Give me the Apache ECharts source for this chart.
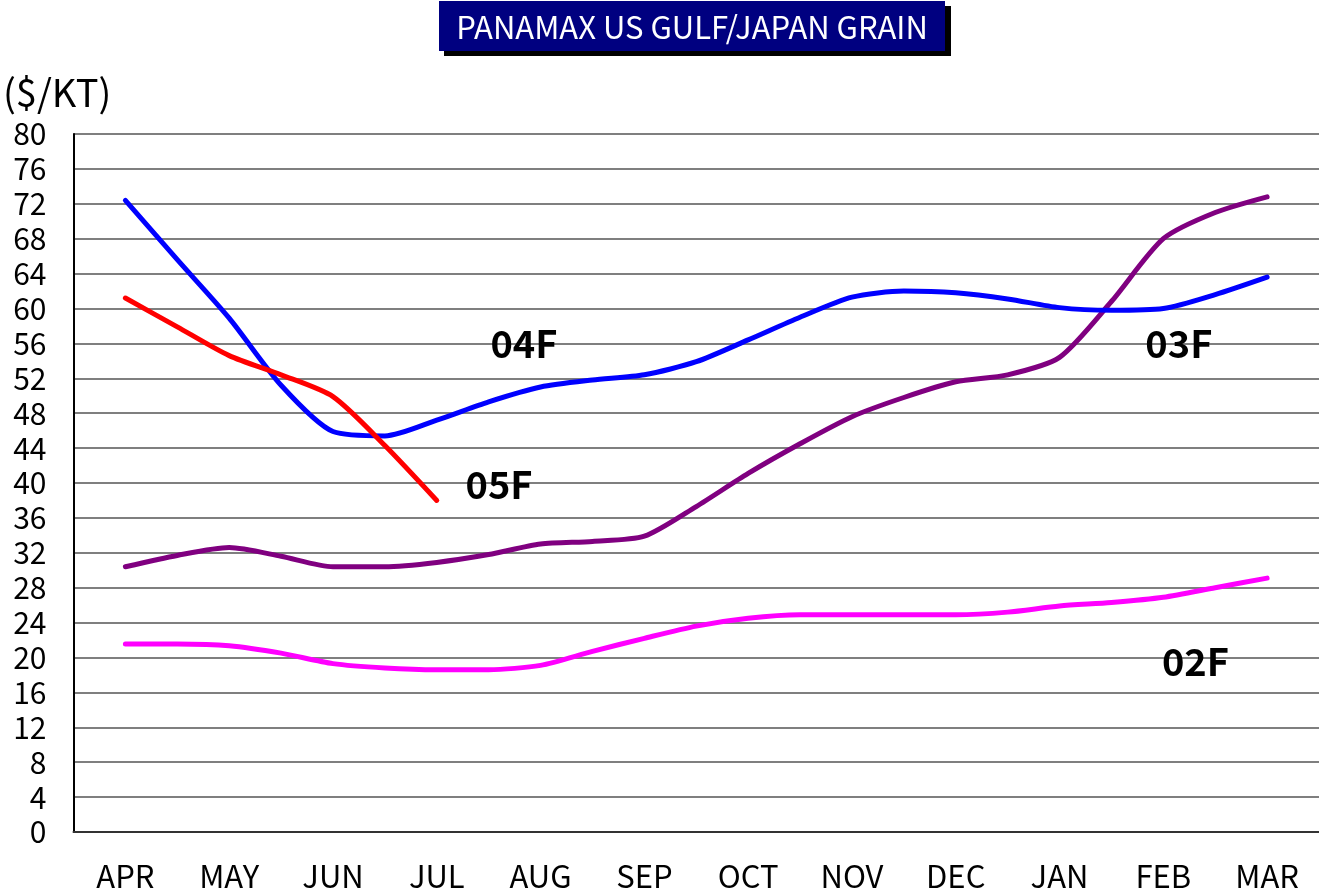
<!DOCTYPE html>
<html>
<head>
<meta charset="utf-8">
<title>PANAMAX US GULF/JAPAN GRAIN</title>
<script src="https://cdn.jsdelivr.net/npm/echarts@6/dist/echarts.min.js"></script>
<style>
  html, body { margin: 0; padding: 0; background: #fff; }
  #chart { width: 1319px; height: 892px; }
</style>
</head>
<body>
<div id="chart"></div>
<script>
// month names on the x axis
const months = ['APR', 'MAY', 'JUN', 'JUL', 'AUG', 'SEP', 'OCT', 'NOV', 'DEC', 'JAN', 'FEB', 'MAR']

// half-month steps, counted from the APR point
const steps = [0, 0.5, 1, 1.5, 2, 2.5, 3, 3.5, 4, 4.5, 5, 5.5, 6, 6.5, 7, 7.5, 8, 8.5, 9, 9.5, 10, 10.5, 11]

// freight rates ($/KT)
const f05 = [61.2, 57.9, 54.6, 52.4, 49.9, 44.3, 38.0]
const f04 = [72.4, 65.6, 58.9, 51.2, 45.9, 45.4, 47.2, 49.3, 51.0, 51.8, 52.4, 53.9,
  56.4, 59.0, 61.3, 62.0, 61.8, 61.1, 60.1, 59.8, 60.0, 61.6, 63.6]
const f03 = [30.4, 31.7, 32.6, 31.6, 30.4, 30.4, 30.9, 31.8, 33.0, 33.3, 33.9, 37.3,
  41.1, 44.5, 47.6, 49.8, 51.6, 52.4, 54.4, 60.8, 68.0, 71.0, 72.8]
const f02 = [21.55, 21.55, 21.35, 20.5, 19.3, 18.8, 18.6, 18.6, 19.1, 20.7, 22.2, 23.6,
  24.5, 24.9, 24.9, 24.9, 24.9, 25.2, 25.9, 26.3, 26.9, 28.0, 29.1]

const FONT = '"Noto Sans CJK JP", "Noto Sans", sans-serif'

function toPoints(values) {
  // centre of each month band sits at +0.5 on the hidden value axis
  return values.map(function(v, i) {
    return [steps[i] + 0.5, v]
  })
}

function makeLine(name, values, color, tag, tagPos) {
  return {
    name: name,
    type: 'line',
    xAxisIndex: 1,
    data: toPoints(values),
    smooth: 0.25,
    showSymbol: false,
    lineStyle: { color: color, width: 5, cap: 'round', join: 'round' },
    itemStyle: { color: color },
    markPoint: {
      symbol: 'rect',
      symbolSize: 0,
      data: [{ coord: tagPos, value: tag }],
      label: {
        show: true,
        formatter: tag,
        color: '#000',
        fontSize: 38,
        fontWeight: 'bold',
        fontFamily: FONT
      }
    }
  }
}

const chart = echarts.init(document.getElementById('chart'))
const option = {
  animation: false,
  backgroundColor: '#fff',
  grid: {
    left: 73.5,
    right: -12,
    top: 134,
    bottom: 60
  },
  graphic: [
    { type: 'rect', shape: { x: 444, y: 6, width: 507, height: 50 }, style: { fill: '#000' } },
    { type: 'rect', shape: { x: 439, y: 1, width: 506, height: 50 }, style: { fill: '#000080' } },
    {
      type: 'text',
      x: 692,
      y: 27,
      style: {
        text: 'PANAMAX US GULF/JAPAN GRAIN',
        fill: '#fff',
        font: '31px ' + FONT,
        align: 'center',
        verticalAlign: 'middle'
      }
    },
    {
      type: 'text',
      x: 3,
      y: 93,
      style: {
        text: '($/KT)',
        fill: '#000',
        font: '38px ' + FONT,
        verticalAlign: 'middle'
      }
    }
  ],
  xAxis: [
    {
      type: 'category',
      data: months,
      boundaryGap: true,
      axisLine: { lineStyle: { color: '#333', width: 2 } },
      axisTick: { inside: true, length: 10, lineStyle: { color: '#333', width: 1 } },
      axisLabel: { color: '#000', fontSize: 31, fontFamily: FONT, margin: 29 },
      splitLine: { show: false }
    },
    {
      type: 'value',
      min: 0,
      max: 12,
      show: false
    }
  ],
  yAxis: {
    type: 'value',
    min: 0,
    max: 80,
    interval: 4,
    axisLine: { show: true, lineStyle: { color: '#000', width: 2 } },
    axisTick: { show: false },
    axisLabel: { color: '#000', fontSize: 30, fontFamily: FONT, margin: 27 },
    splitLine: { lineStyle: { color: '#555', width: 1.5 } }
  },
  series: [
    makeLine('02F', f02, '#ff00ff', '02F', [10.81, 19.5]),
    makeLine('03F', f03, '#800080', '03F', [10.65, 56.0]),
    makeLine('04F', f04, '#0000ff', '04F', [4.34, 56.0]),
    makeLine('05F', f05, '#ff0000', '05F', [4.1, 39.8])
  ]
}
chart.setOption(option)
</script>
</body>
</html>
